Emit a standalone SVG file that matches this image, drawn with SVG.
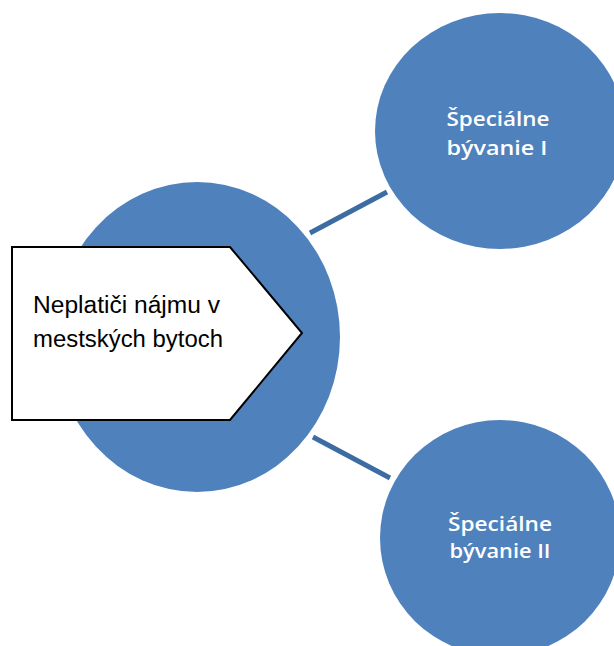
<svg xmlns="http://www.w3.org/2000/svg" width="614" height="646" viewBox="0 0 614 646">
<style>
.c{fill:#4f81bd}
.w{fill:#ffffff;font-family:"Open Sans","Liberation Sans",Arial,sans-serif;font-size:20px;font-weight:600;text-anchor:middle}
.b{fill:#000000;font-family:"Liberation Sans",Arial,sans-serif;font-size:23px}
.ln{stroke:#3d6ca3;stroke-width:5;stroke-linecap:butt;fill:none}
</style>
<rect width="614" height="646" fill="#ffffff"/>
<g id="connectors">
<line class="ln" x1="310" y1="233" x2="387" y2="192"/>
<line class="ln" x1="313" y1="437" x2="390" y2="478"/>
</g>
<g id="center">
<ellipse class="c" cx="197" cy="337" rx="143" ry="155"/>
</g>
<g id="special1">
<ellipse class="c" cx="500" cy="131" rx="125" ry="118"/>
<text class="w" x="498" y="126" textLength="103" lengthAdjust="spacingAndGlyphs">Špeciálne</text>
<text class="w" x="497" y="155" textLength="101" lengthAdjust="spacingAndGlyphs">bývanie I</text>
</g>
<g id="special2">
<ellipse class="c" cx="500" cy="538" rx="120" ry="118"/>
<text class="w" x="500" y="531" textLength="104" lengthAdjust="spacingAndGlyphs">Špeciálne</text>
<text class="w" x="500" y="558" textLength="101" lengthAdjust="spacingAndGlyphs">bývanie II</text>
</g>
<g id="label">
<polygon points="12,247 230,247 302,333 230,420 12,420" fill="#ffffff" stroke="#000000" stroke-width="2"/>
<text class="b" x="33" y="313" textLength="187" lengthAdjust="spacingAndGlyphs">Neplatiči nájmu v</text>
<text class="b" x="33" y="347" textLength="190" lengthAdjust="spacingAndGlyphs">mestských bytoch</text>
</g>
</svg>
